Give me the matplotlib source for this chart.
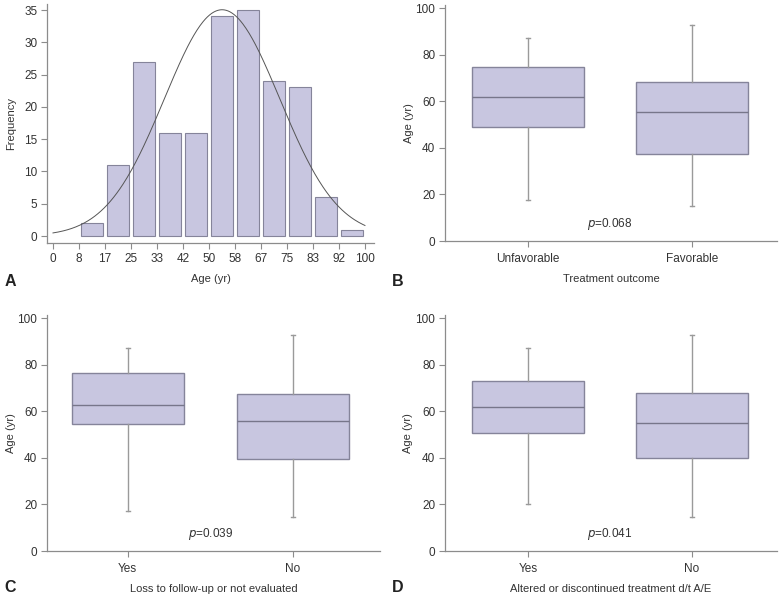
import matplotlib
matplotlib.use("Agg")
import matplotlib.pyplot as plt
import numpy as np

plt.rcParams['font.family'] = ['Liberation Sans', 'DejaVu Sans']

# ---- Panel A data ----
bin_edges = [0, 8.33, 16.67, 25, 33.33, 41.67, 50, 58.33, 66.67, 75, 83.33, 91.67, 100]
bin_counts = [0, 2, 11, 27, 16, 16, 34, 35, 24, 23, 6, 1]
x_tick_labels = ["0", "8", "17", "25", "33", "42", "50", "58", "67", "75", "83", "92", "100"]
fit_mean = 54.2
fit_sd = 18.5

# ---- Panel B-D box data: (whislo, q1, med, q3, whishi) ----
b_cats = ["Unfavorable", "Favorable"]
b_unfav = [17.5, 49.0, 62.0, 74.5, 87.0]
b_fav = [14.9, 37.3, 55.2, 68.1, 92.7]
b_p = "0.068"

c_cats = ["Yes", "No"]
c_yes = [17.3, 54.4, 62.5, 76.3, 87.0]
c_no = [14.4, 39.3, 55.7, 67.5, 92.7]
c_p = "0.039"

d_cats = ["Yes", "No"]
d_yes = [20.0, 50.5, 61.7, 72.8, 87.0]
d_no = [14.4, 39.8, 55.1, 67.7, 92.7]
d_p = "0.041"

FILL = "#c8c6e0"
EDGE = "#85849a"
WHISK = "#9a9a9a"
SPINE = "#8c8c8c"
TXT = "#333333"
FS = 8.5
LFS = 8

W, H = 781, 597
fig = plt.figure(figsize=(W / 100, H / 100), dpi=100)


def ax_px(left, right, top, bottom):
    return fig.add_axes([left / W, 1 - bottom / H, (right - left) / W, (bottom - top) / H])


def style(ax):
    for s in ["top", "right"]:
        ax.spines[s].set_visible(False)
    for s in ["left", "bottom"]:
        ax.spines[s].set_color(SPINE)
        ax.spines[s].set_linewidth(0.9)
    ax.tick_params(direction="out", length=4, width=0.8, color=SPINE,
                   labelsize=FS, labelcolor=TXT, pad=3)


def place_ylabel(ax, rect, xpix):
    left, right = rect[0], rect[1]
    ax.yaxis.set_label_coords((xpix - left) / (right - left), 0.5)


# ---------------- Panel A ----------------
rectA = (47, 374, 4, 243)
axA = ax_px(*rectA)
style(axA)
edges = np.array(bin_edges)
widths = np.diff(edges)
centers = edges[:-1] + widths / 2
counts = np.array(bin_counts)
mask = counts > 0
axA.bar(centers[mask], counts[mask], width=widths[mask] * 0.88, color=FILL,
        edgecolor=EDGE, linewidth=0.8)
xs = np.linspace(0, 100, 300)
N = counts.sum()
binw = 100 / 12
curve = N * binw / (fit_sd * np.sqrt(2 * np.pi)) * np.exp(-0.5 * ((xs - fit_mean) / fit_sd) ** 2)
axA.plot(xs, curve, color="#555555", linewidth=0.7)
axA.set_xlim(-1.92, 102.9)
axA.set_ylim(-1.08, 35.93)
axA.set_xticks(edges)
axA.set_xticklabels(x_tick_labels)
axA.set_yticks([0, 5, 10, 15, 20, 25, 30, 35])
axA.set_ylabel("Frequency", fontsize=LFS, color=TXT, va="center")
place_ylabel(axA, rectA, 11)
axA.set_xlabel("Age (yr)", fontsize=LFS, color=TXT, labelpad=7)
fig.text(5 / W, 1 - 281 / H, "A", fontsize=11.5, fontweight="bold", va="center", ha="left", color="#222222")


# ---------------- Box panels ----------------
def box_panel(rect, cats, s1, s2, ptxt, xlabel, letter, xlim, ylab_x):
    ax = ax_px(*rect)
    style(ax)
    stats = []
    for name, s in zip(cats, [s1, s2]):
        stats.append(dict(label=name, whislo=s[0], q1=s[1], med=s[2], q3=s[3], whishi=s[4], fliers=[]))
    ax.bxp(stats, positions=[0, 1], widths=0.68, patch_artist=True, showfliers=False,
           boxprops=dict(facecolor=FILL, edgecolor=EDGE, linewidth=1.0),
           medianprops=dict(color="#77768a", linewidth=1.0),
           whiskerprops=dict(color=WHISK, linewidth=1.0),
           capprops=dict(color=WHISK, linewidth=1.0),
           capwidths=0.025)
    ax.set_xlim(*xlim)
    ax.set_ylim(0, 101.3)
    ax.set_yticks([0, 20, 40, 60, 80, 100])
    ax.set_xticks([0, 1])
    ax.set_xticklabels(cats)
    ax.tick_params(axis="x", pad=5)
    ax.set_ylabel("Age (yr)", fontsize=LFS, color=TXT, va="center")
    place_ylabel(ax, rect, ylab_x)
    ax.set_xlabel(xlabel, fontsize=LFS, color=TXT, labelpad=6)
    ax.text(0.5, 7.5, r"$\it{p}$=" + ptxt, fontsize=FS, color=TXT, ha="center", va="center")
    fig.text(letter[1] / W, 1 - letter[2] / H, letter[0], fontsize=11.5, fontweight="bold",
             va="center", ha="left", color="#222222")
    return ax


box_panel((445, 777, 5, 241), b_cats, b_unfav, b_fav, b_p, "Treatment outcome",
          ("B", 392, 281), (-0.506, 1.52), 409)
box_panel((47, 380, 315, 551), c_cats, c_yes, c_no, c_p, "Loss to follow-up or not evaluated",
          ("C", 4, 588), (-0.49, 1.53), 11)
box_panel((445, 777, 315, 551), d_cats, d_yes, d_no, d_p, "Altered or discontinued treatment d/t A/E",
          ("D", 392, 588), (-0.506, 1.52), 408)

fig.savefig("out.png", dpi=100)
